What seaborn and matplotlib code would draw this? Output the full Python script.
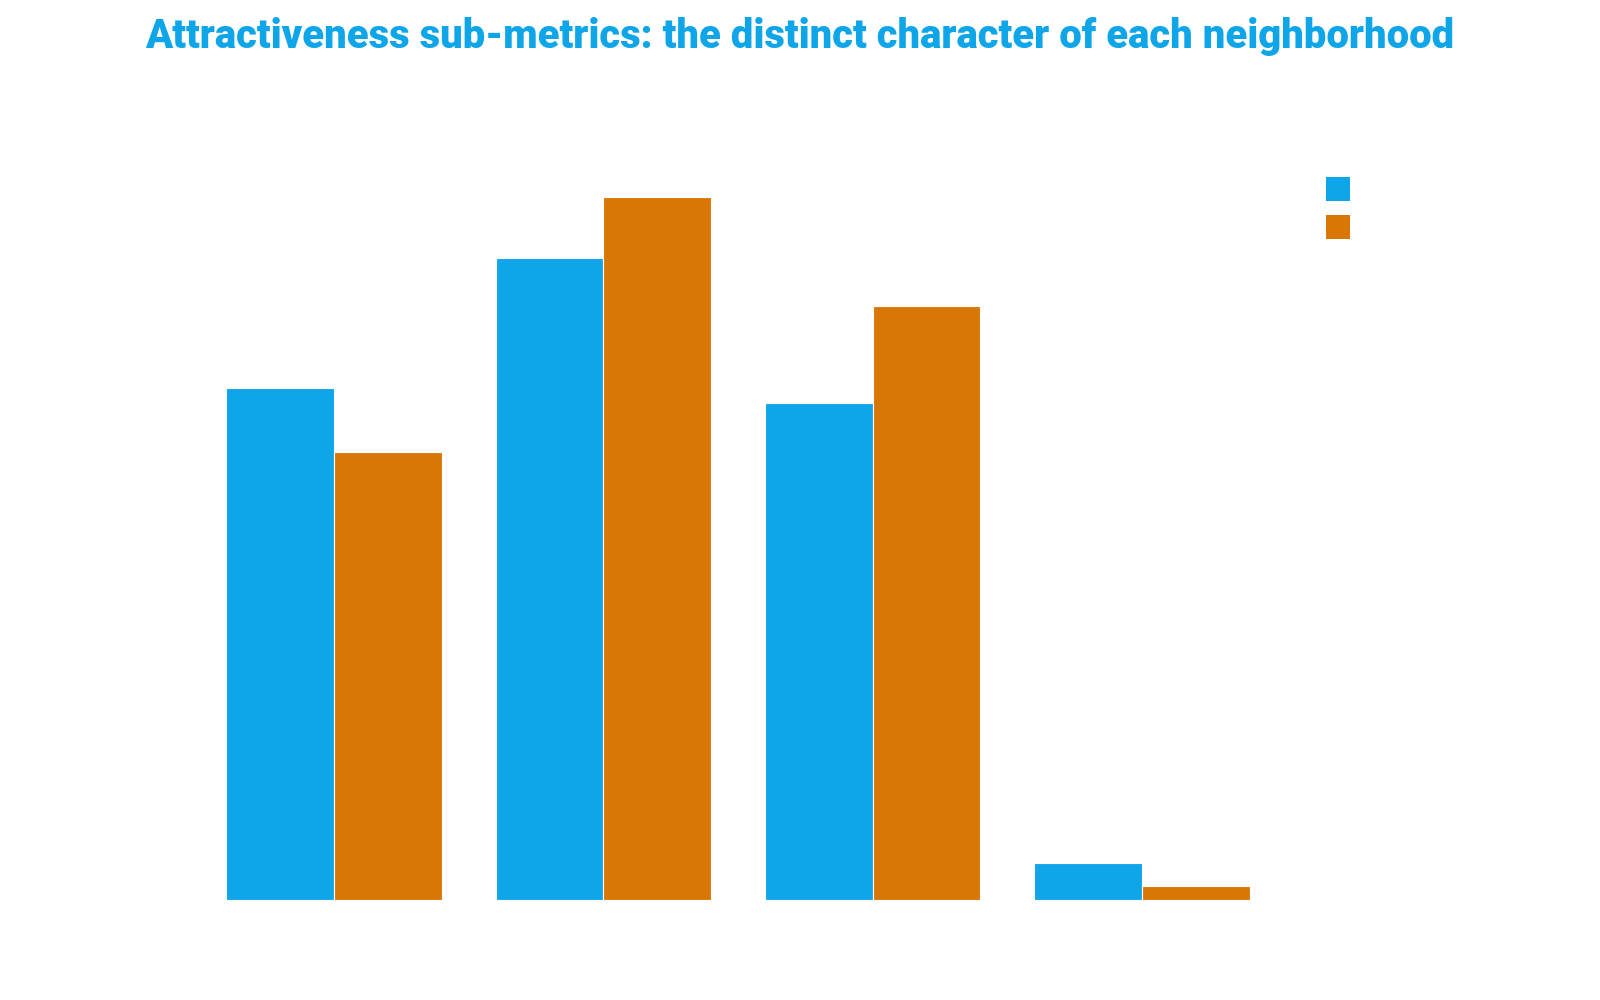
import matplotlib
matplotlib.use("Agg")
import matplotlib.pyplot as plt
from matplotlib.patches import Patch
import seaborn as sns
import pandas as pd

# Data (units are relative scores)
submetrics = ["Metric 1", "Metric 2", "Metric 3", "Metric 4"]
neighborhoods = ["Neighborhood A", "Neighborhood B"]
values_a = [72.8, 91.3, 70.7, 5.2]
values_b = [63.8, 100.0, 84.5, 2.0]
colors = ["#0EA5E9", "#D97706"]

df = pd.DataFrame({
    "submetric": submetrics * 2,
    "neighborhood": [neighborhoods[0]] * 4 + [neighborhoods[1]] * 4,
    "value": values_a + values_b,
})

sns.set_theme(style="white")
plt.rcParams["font.family"] = ["Roboto", "DejaVu Sans"]

fig = plt.figure(figsize=(16, 10), dpi=100)
ax = fig.add_axes([0.1245, 0.10, 0.6735, 0.74])

sns.barplot(data=df, x="submetric", y="value", hue="neighborhood",
            palette=colors, order=submetrics, hue_order=neighborhoods,
            width=0.8, saturation=1, edgecolor="white", linewidth=0.8,
            errorbar=None, legend=False, ax=ax)

ax.set_xlim(-0.5, 3.5)
ax.set_ylim(0, 105.3)
ax.set_xlabel("")
ax.set_ylabel("")
ax.set_xticks([])
ax.set_yticks([])
for s in ax.spines.values():
    s.set_visible(False)

handles = [Patch(facecolor=c, edgecolor="none") for c in colors]
fig.legend(handles, ["", ""], loc="upper left",
           bbox_to_anchor=(0.829, 0.823), frameon=False,
           fontsize=19.3, handlelength=0.895, handleheight=1.0,
           labelspacing=0.42, borderpad=0, borderaxespad=0, handletextpad=0.3)

fig.text(0.5, 0.963, "Attractiveness sub-metrics: the distinct character of each neighborhood",
         ha="center", va="center", fontsize=28.8, fontweight="heavy", color="#0EA5E9")

fig.savefig("out.png", dpi=100, facecolor="white")
